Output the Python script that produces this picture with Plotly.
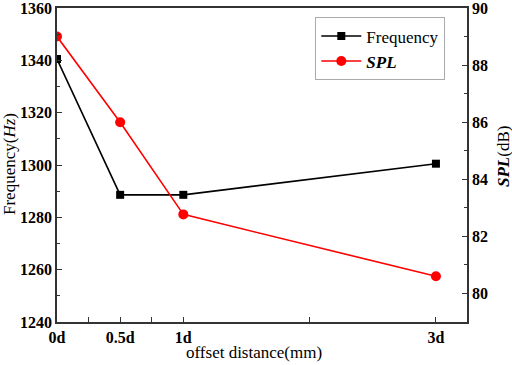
import plotly.graph_objects as go

positions = [0, 0.5, 1, 3]
categories = ["0d", "0.5d", "1d", "3d"]
frequency = [1340.5, 1288.6, 1288.6, 1300.5]
spl = [89.0, 86.0, 82.77, 80.6]

tick_pos = [0, 0.25, 0.5, 0.75, 1, 2, 3]
tick_txt = ["0d", "", "0.5d", "", "1d", "", "3d"]

FONT = "Liberation Serif"

fig = go.Figure()
fig.add_trace(go.Scatter(x=positions, y=frequency, name="Frequency", mode="lines+markers",
                         line=dict(color="black", width=1.6),
                         marker=dict(symbol="square", size=8, color="black")))
fig.add_trace(go.Scatter(x=positions, y=spl, name="<b><i>SPL</i></b>", mode="lines+markers",
                         yaxis="y2",
                         line=dict(color="#ff0000", width=1.6),
                         marker=dict(symbol="circle", size=10, color="#ff0000")))

axis_common = dict(showline=True, linecolor="#333333", linewidth=1.5, ticks="inside",
                   ticklen=5, tickcolor="#333333", showgrid=False, zeroline=False,
                   automargin=False, ticklabeloverflow="allow",
                   tickfont=dict(family=FONT, size=16, color="black", weight="bold"))

W, H = 512, 365
L, R, T, B = 57, 45, 8, 43

fig.update_layout(
    width=W, height=H,
    margin=dict(l=L, r=R, t=T, b=B),
    paper_bgcolor="white", plot_bgcolor="white",
    font=dict(family=FONT, color="black"),
    showlegend=True,
    legend=dict(x=0.63, y=0.97, xanchor="left", yanchor="top",
                bgcolor="white", bordercolor="#aaaaaa", borderwidth=1,
                font=dict(family=FONT, size=17, color="black"),
                tracegroupgap=0, itemwidth=40),
    xaxis=dict(range=[0, 3.246], tickvals=tick_pos, ticktext=tick_txt, mirror=True,
               **axis_common),
    yaxis=dict(range=[1240, 1360], dtick=20,
               minor=dict(dtick=10, ticks="inside", ticklen=3, tickcolor="#333333"),
               **axis_common),
    yaxis2=dict(range=[79, 90], tickvals=[80, 82, 84, 86, 88, 90], overlaying="y", side="right",
                minor=dict(dtick=1, ticks="inside", ticklen=3, tickcolor="#333333"),
                **axis_common),
    annotations=[
        dict(text="offset distance(mm)", xref="paper", yref="paper",
             x=(254 - L) / (W - L - R), y=-(352 - (H - B)) / (H - T - B),
             xanchor="center", yanchor="middle", showarrow=False,
             font=dict(family=FONT, size=17, color="black")),
        dict(text="Frequency(<i>Hz</i>)", xref="paper", yref="paper",
             x=-(L - 9) / (W - L - R), y=(H - B - 164) / (H - T - B),
             xanchor="center", yanchor="middle", textangle=-90, showarrow=False,
             font=dict(family=FONT, size=17, color="black")),
        dict(text="<b><i>SPL</i></b>(dB)", xref="paper", yref="paper",
             x=1 + (503 - (W - R)) / (W - L - R), y=(H - B - 157) / (H - T - B),
             xanchor="center", yanchor="middle", textangle=-90, showarrow=False,
             font=dict(family=FONT, size=17, color="black")),
    ],
)

fig.write_html("out.html", config={"displayModeBar": False},
               post_script="document.body.style.margin='0';document.body.style.padding='0';")
